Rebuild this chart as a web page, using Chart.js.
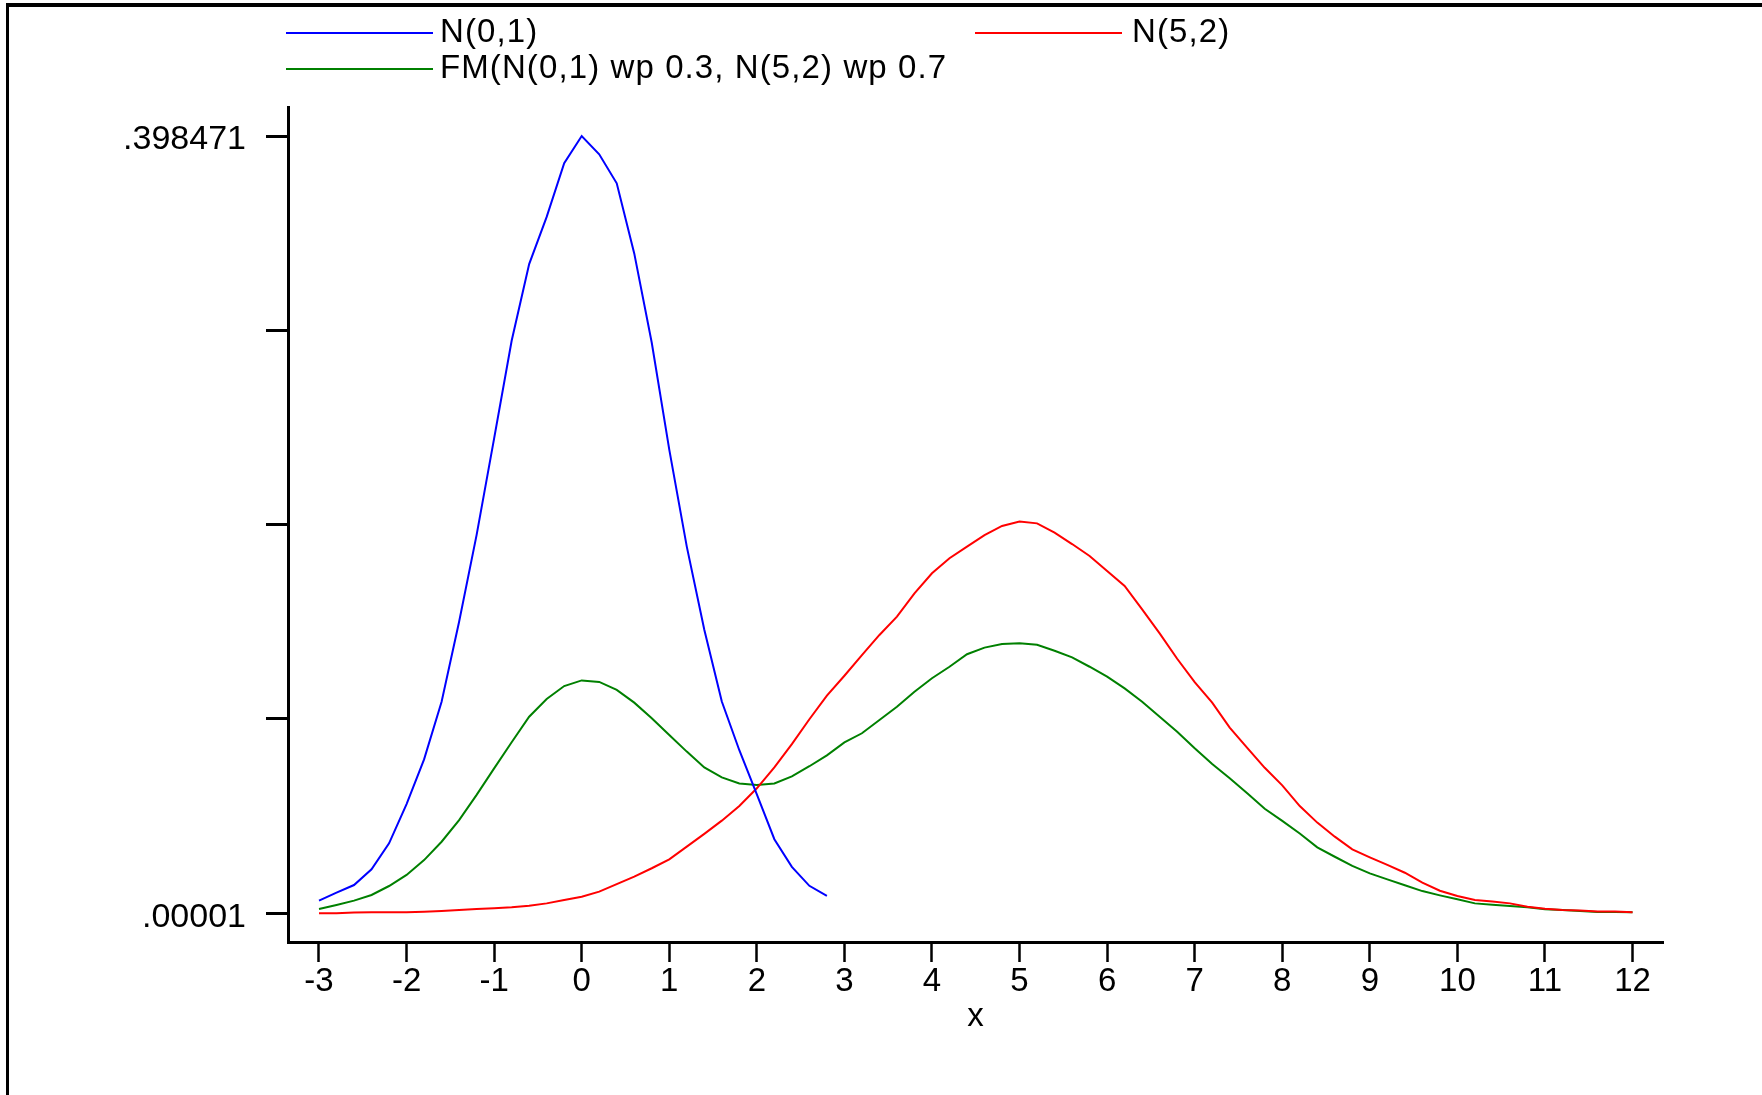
<!DOCTYPE html>
<html>
<head>
<meta charset="utf-8">
<title>N(0,1), N(5,2) and finite mixture</title>
<script src="https://cdn.jsdelivr.net/npm/chart.js@4.4.1/dist/chart.umd.min.js"></script>
<style>
    html, body { margin: 0; padding: 0; background: #fff; }
    #wrap { position: relative; width: 1762px; height: 1095px; overflow: hidden; }
    #frame { position: absolute; left: 6px; top: 3px; right: -10px; bottom: -10px;
             border-top: 4px solid #000; border-left: 3px solid #000; }
    canvas { position: absolute; left: 0; top: 0; }
    .legend-text { position: absolute; font-family: "Liberation Sans", Arial, sans-serif;
                   font-size: 33px; line-height: 33px; letter-spacing: 1.1px;
                   white-space: nowrap; color: #000; }
    .legend-key { position: absolute; width: 147px; height: 2px; }
</style>
</head>
<body>
<div id="wrap">
    <div id="frame"></div>
    <canvas id="densityChart" width="1762" height="1095"></canvas>
</div>
<script>
// x grid of the estimates
const xValues = [
    -3, -2.8, -2.6, -2.4, -2.2, -2, -1.8, -1.6, -1.4, -1.2, -1, -0.8, -0.6, -0.4, -0.2,
    0, 0.2, 0.4, 0.6, 0.8, 1, 1.2, 1.4, 1.6, 1.8, 2, 2.2, 2.4, 2.6, 2.8,
    3, 3.2, 3.4, 3.6, 3.8, 4, 4.2, 4.4, 4.6, 4.8, 5, 5.2, 5.4, 5.6, 5.8,
    6, 6.2, 6.4, 6.6, 6.8, 7, 7.2, 7.4, 7.6, 7.8, 8, 8.2, 8.4, 8.6, 8.8,
    9, 9.2, 9.4, 9.6, 9.8, 10, 10.2, 10.4, 10.6, 10.8, 11, 11.2, 11.4, 11.6, 11.8,
    12
];

// N(0,1), only drawn from -3 to 2.8
const normal01 = [
    0.0065, 0.0106, 0.0145, 0.0226, 0.0359, 0.0560, 0.0789, 0.1085, 0.1495, 0.1940, 0.2435, 0.2935, 0.3328, 0.3570, 0.3845,
    0.398471, 0.3891, 0.3742, 0.3383, 0.2925, 0.2377, 0.1880, 0.1454, 0.1086, 0.0836, 0.0610, 0.0380, 0.0238, 0.0141, 0.0090
];

const normal52 = [
    0.00001, 0.00005, 0.0004, 0.0005, 0.0005, 0.0005, 0.0008, 0.0012, 0.0017, 0.0022, 0.0026, 0.0031, 0.0039, 0.0051, 0.0068,
    0.0085, 0.0111, 0.0150, 0.0188, 0.0231, 0.0277, 0.0342, 0.0407, 0.0475, 0.0550, 0.0641, 0.0748, 0.0867, 0.0995, 0.1116,
    0.1218, 0.1324, 0.1427, 0.1521, 0.1640, 0.1743, 0.1820, 0.1880, 0.1939, 0.1986, 0.2008, 0.1999, 0.1951, 0.1893, 0.1832,
    0.1755, 0.1678, 0.1558, 0.1435, 0.1305, 0.1185, 0.1080, 0.0952, 0.0848, 0.0746, 0.0656, 0.0550, 0.0465, 0.0393, 0.0328,
    0.0287, 0.0248, 0.0208, 0.0157, 0.0116, 0.0089, 0.0068, 0.0060, 0.0051, 0.0034, 0.0024, 0.0017, 0.0014, 0.0009, 0.0009,
    0.0005
];

const mixture = [
    0.0022, 0.0043, 0.0065, 0.0094, 0.0140, 0.0197, 0.0273, 0.0367, 0.0478, 0.0607, 0.0743, 0.0877, 0.1008, 0.1099, 0.1165,
    0.1194, 0.1186, 0.1145, 0.1080, 0.1000, 0.0914, 0.0829, 0.0748, 0.0697, 0.0666, 0.0658, 0.0666, 0.0702, 0.0754, 0.0810,
    0.0876, 0.0923, 0.0991, 0.1059, 0.1136, 0.1205, 0.1264, 0.1328, 0.1362, 0.1381, 0.1384, 0.1377, 0.1346, 0.1312, 0.1264,
    0.1213, 0.1153, 0.1085, 0.1008, 0.0931, 0.0846, 0.0765, 0.0692, 0.0615, 0.0536, 0.0474, 0.0409, 0.0338, 0.0290, 0.0243,
    0.0205, 0.0174, 0.0144, 0.0114, 0.0092, 0.0072, 0.0051, 0.0044, 0.0038, 0.0031, 0.0021, 0.0017, 0.0012, 0.0007, 0.0007,
    0.0005
];

const seriesNames = ['N(0,1)', 'N(5,2)', 'FM(N(0,1) wp 0.3, N(5,2) wp 0.7'];
const seriesColors = ['#0000ff', '#ff0000', '#008000'];

// axis ticks
const xTickValues = [-3, -2, -1, 0, 1, 2, 3, 4, 5, 6, 7, 8, 9, 10, 11, 12];
const yTickValues = [0.00001, 0.0996253, 0.1992405, 0.2988558, 0.398471];
const yTickLabels = ['.00001', '', '', '', '.398471'];

const FONT = 'Liberation Sans';

function toPoints(values) {
    return values.map((v, i) => ({ x: xValues[i], y: v }));
}

const datasets = [normal01, normal52, mixture].map((values, i) => ({
    label: seriesNames[i],
    data: toPoints(values),
    borderColor: seriesColors[i],
    backgroundColor: seriesColors[i],
    borderWidth: 2,
    pointRadius: 0,
    tension: 0,
    fill: false
}));

const ctx = document.getElementById('densityChart').getContext('2d');

const chart = new Chart(ctx, {
    type: 'line',
    data: { datasets: datasets },
    options: {
        responsive: false,
        animation: false,
        events: [],
        layout: { padding: { left: 0, top: 107, right: 99, bottom: 0 } },
        plugins: {
            legend: { display: false },
            tooltip: { enabled: false }
        },
        scales: {
            x: {
                type: 'linear',
                min: -3.354,
                max: 12.348,
                afterBuildTicks: scale => { scale.ticks = xTickValues.map(v => ({ value: v })); },
                afterFit: scale => { scale.height = 153; },
                border: { display: true, color: '#000', width: 3 },
                grid: { display: true, drawOnChartArea: false, drawTicks: true,
                        tickLength: 20, tickColor: '#000', tickWidth: 2.5 },
                ticks: {
                    color: '#000', padding: 0, maxRotation: 0, autoSkip: false,
                    font: { family: FONT, size: 33 },
                    callback: value => String(value)
                },
                title: {
                    display: true, text: 'x', color: '#000',
                    font: { family: FONT, size: 33 },
                    padding: { top: 0, bottom: 58 }
                }
            },
            y: {
                type: 'linear',
                min: -0.0147,
                max: 0.41334,
                afterBuildTicks: scale => { scale.ticks = yTickValues.map(v => ({ value: v })); },
                afterFit: scale => { scale.width = 288; },
                border: { display: true, color: '#000', width: 3 },
                grid: { display: true, drawOnChartArea: false, drawTicks: true,
                        tickLength: 22, tickColor: '#000', tickWidth: 3 },
                ticks: {
                    color: '#000', padding: 20, autoSkip: false, labelOffset: 4,
                    font: { family: FONT, size: 34 },
                    callback: (value, index) => yTickLabels[index]
                }
            }
        }
    }
});

// Legend: two columns, N(0,1) and the mixture on the left, N(5,2) on the right
const legendSlots = [
    { keyLeft: 286, keyTop: 32, textLeft: 440, textTop: 14 },
    { keyLeft: 975, keyTop: 32, textLeft: 1132, textTop: 14 },
    { keyLeft: 286, keyTop: 68, textLeft: 440, textTop: 50 }
];

const wrap = document.getElementById('wrap');
chart.data.datasets.forEach((ds, i) => {
    const slot = legendSlots[i];
    const key = document.createElement('div');
    key.className = 'legend-key';
    key.style.left = slot.keyLeft + 'px';
    key.style.top = slot.keyTop + 'px';
    key.style.background = ds.borderColor;
    wrap.appendChild(key);

    const text = document.createElement('div');
    text.className = 'legend-text';
    text.style.left = slot.textLeft + 'px';
    text.style.top = slot.textTop + 'px';
    text.textContent = ds.label;
    wrap.appendChild(text);
});
</script>
</body>
</html>
